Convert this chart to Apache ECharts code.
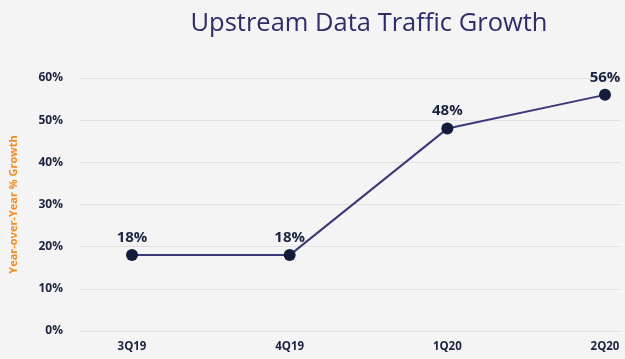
<!DOCTYPE html>
<html><head><meta charset="utf-8">
<script src="https://cdn.jsdelivr.net/npm/echarts@6/dist/echarts.min.js"></script>
<style>html,body{margin:0;padding:0;background:#f4f4f4}#c{width:625px;height:359px}</style>
</head><body><div id="c"></div>
<script>
const categories = ['3Q19', '4Q19', '1Q20', '2Q20'];
const growth = [18, 18, 48, 56];
const yTicks = [0, 10, 20, 30, 40, 50, 60];

const chart = echarts.init(document.getElementById('c'));
const navy = '#1b2340';
chart.setOption({
  backgroundColor: '#f4f4f4',
  title: {
    text: 'Upstream Data Traffic Growth',
    left: 364, top: 6, textAlign: 'center',
    textStyle: { fontFamily: 'Open Sans', fontWeight: 'normal', fontSize: 25.5, color: '#2f2c6b' }
  },
  grid: [
    { left: 73, right: 4, top: 78, bottom: 28 },
    { left: 132, right: 20, top: 78, bottom: 28 }
  ],
  xAxis: [
    { gridIndex: 0, type: 'value', show: false, min: 0, max: 1 },
    { gridIndex: 1, type: 'category', data: categories, boundaryGap: false,
      axisLine: { show: false }, axisTick: { show: false },
      axisLabel: { color: navy, fontWeight: 'bold', fontSize: 11.5, fontFamily: 'Open Sans', margin: 10 } }
  ],
  yAxis: [
    { gridIndex: 0, type: 'value', min: yTicks[0], max: yTicks[yTicks.length - 1], interval: 10,
      name: 'Year-over-Year % Growth', nameLocation: 'middle', nameGap: 60,
      nameTextStyle: { color: '#f58a1f', fontWeight: 'bold', fontSize: 11, fontFamily: 'Open Sans' },
      axisLine: { show: false }, axisTick: { show: false },
      axisLabel: { formatter: '{value}%', color: navy, fontWeight: 'bold', fontSize: 12, fontFamily: 'Open Sans', margin: 16 },
      splitLine: { lineStyle: { color: '#e2e2e2', width: 1 } } },
    { gridIndex: 1, type: 'value', min: yTicks[0], max: yTicks[yTicks.length - 1], show: false, splitLine: { show: false } }
  ],
  series: [{
    type: 'line', xAxisIndex: 1, yAxisIndex: 1, data: growth,
    symbol: 'circle', symbolSize: 12,
    lineStyle: { color: '#3b3878', width: 2 },
    itemStyle: { color: '#131c3b' },
    label: { show: true, position: 'top', distance: 4, formatter: '{c}%', color: navy,
      fontWeight: 'bold', fontSize: 15, fontFamily: 'Open Sans' }
  }]
});
</script></body></html>
